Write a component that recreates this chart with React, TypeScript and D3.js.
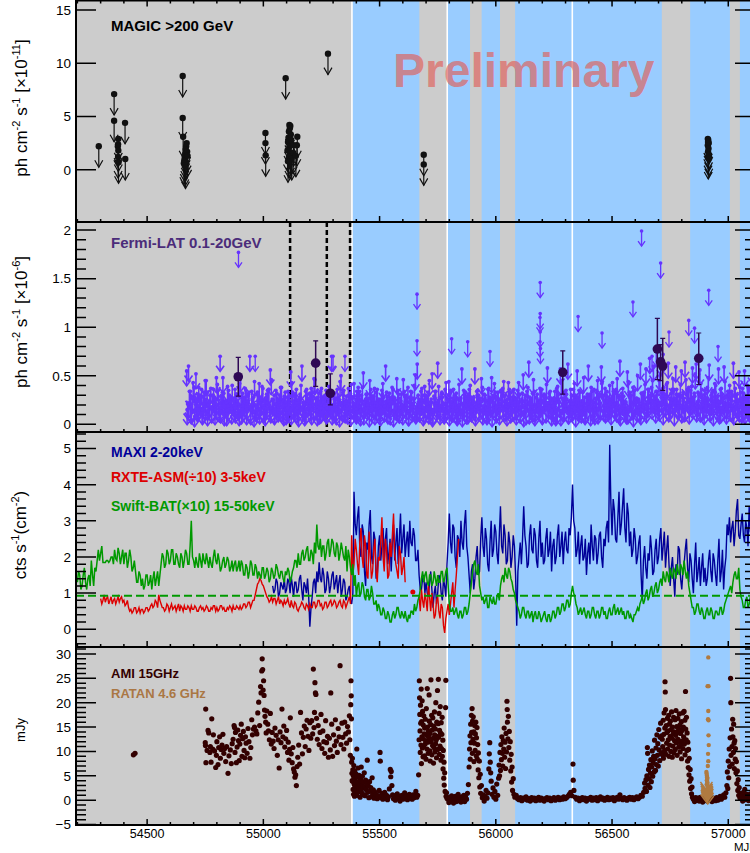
import * as d3 from 'd3';
import { useEffect, useRef } from 'react';

// ---------- data (MJD, flux) ----------

// MAGIC >200 GeV upper limits [x1e-11 ph cm-2 s-1]
const magicUL: [number, number][] = [
  [54292, 2.2],
  [54358, 7.1], [54358, 4.6], [54376, 2.9], [54375, 2.4], [54374, 2.2], [54376, 1.8], [54375, 1.2], [54377, 0.7], [54405, 4.4], [54406, 1.0],
  [54653, 8.8], [54653, 4.85], [54655, 3.1], [54670, 2.5], [54668, 2.2], [54666, 1.9], [54664, 1.5], [54662, 1.2], [54660, 0.9], [54658, 0.6], [54662, 0.4], [54665, 0.2], [54672, 1.7], [54674, 1.3],
  [55009, 3.45], [55009, 2.5], [55010, 1.35],
  [55096, 8.6],
  [55112, 4.2], [55116, 4.1], [55114, 3.9], [55110, 3.6], [55108, 3.0], [55118, 3.3], [55106, 2.6], [55120, 2.8], [55112, 2.2], [55104, 1.8], [55117, 1.5], [55110, 1.2], [55122, 1.0], [55106, 0.8], [55130, 2.3], [55128, 1.6], [55146, 3.1], [55144, 2.3], [55140, 1.3],
  [55278, 10.9],
  [55690, 1.4], [55690, 0.5],
  [56912, 2.9], [56914, 2.8], [56913, 2.6], [56916, 2.5], [56912, 2.3], [56915, 2.0], [56913, 1.7], [56916, 1.4], [56914, 1.1],
];

// Fermi-LAT upper limits [x1e-6]: three interleaved 8-day grids (from MJD 54670, 54672 and 54674)
const fermiStep = 8;
const fermiStartA = 54670;
const fermiULA = [
  .55, .60, .34, .28, .38, .52, .31, .25, .36, .29, .45, .33, .22, .37, .30, .27, .48, .35, .70, .26, .32, .24, .39, .30, .28,
  .27, .36, .31, .21, .49, .32, .26, .35, .29, .70, .34, .28, .19, .33, .42, .25, .37, .23, .31, .36, .56, .26, .30, .35, .24,
  .30, .38, .24, .33, .28, .20, .54, .33, .29, .36, .25, .31, .60, .22, .34, .31, .27, .37, .29, .46, .25, .32, .34, .28, .29,
  .35, .31, .23, .70, .30, .27, .36, .26, .50, .33, .21, .29, .37, .32, .28, .42, .25, .19, .34, .30, .53, .24, .31, .27, .36,
  .29, .37, .33, .25, .22, .35, .28, .60, .29, .32, .26, .36, .25, .47, .31, .27, .20, .34, .30, .38, .28, .33, .26, .51, .62,
  .26, .34, .30, .39, .28, .33, .23, .52, .29, .34, .63, .28, .31, .21, .36, .27, .44, .35, .27, .30, .32, .26, .25, .57, .35,
  .33, .29, .36, .28, .22, .57, .34, .30, .27, .38, .31, .25, .36, .24, .48, .30, .33, .28, .26, .35, .37, .29, .21, .43, .33,
  .28, .36, .26, .35, .31, .23, .51, .30, .34, .64, .26, .32, .34, .28, .22, .37, .36, .29, .29, .58, .32, .27, .25, .34, .37,
  .31, .57, .27, .33, .35, .62, .24, .30, .36, .30, .55, .35, .21, .33, .28, .28, .60, .31, .34, .36, .26, .45, .30, .59, .29,
  .37, .34, .28, .25, .43, .32, .36, .28, .65, .32, .29, .22, .54, .33, .30, .38, .35, .27, .26, .62, .31, .33, .57, .36, .68,
  .38, .60, .29, .34, .45, .66, .34, .31, .41, .63, .27, .36, .36, .59, .30, .31, .55, .33, .64, .30, .38, .35, .58, .32, .62,
  .33, .56, .36, .27, .32, .38, .61, .30, .35, .42, .25, .57, .36, .31, .59, .28, .34, .40, .34, .63, .37, .31, .54, .33, .37,
  .55, .29, .38, .36, .58, .31, .32,
];
const fermiStartB = 54674;
const fermiULB = [
  .21, .34, .16, .43, .28, .19, .38, .24, .15, .33, .45, .20, .30, .17, .36, .25, .41, .18, .29, .48, .22, .14, .35, .27, .40,
  .19, .31, .24, .42, .16, .28, .37, .21, .33, .15, .26, .44, .18, .30, .23, .39, .17, .27, .35, .20, .46, .25, .16, .32, .22,
  .38, .18, .29, .15, .34, .25, .43, .20, .31, .17, .27, .40, .22, .14, .36, .24, .19, .33, .47, .21, .28, .16, .37, .23, .30,
  .17, .39, .26, .20, .32, .15, .28, .44, .19, .35, .24, .16, .30, .41, .22, .18, .34, .27, .14, .38, .21, .31, .25, .45, .18,
  .29, .22, .36, .16, .26, .42, .19, .33, .24, .15, .38, .28, .20, .35, .17, .31, .46, .23, .27, .14, .34, .21, .40, .18, .30,
  .24, .37, .17, .30, .21, .45, .26, .15, .34, .22, .39, .19, .28, .16, .43, .25, .32, .18, .36, .23, .14, .41, .27, .20, .33,
  .16, .31, .40, .22, .28, .18, .35, .25, .47, .19, .30, .15, .37, .23, .27, .42, .17, .33, .21, .29, .44, .19, .26, .36, .24,
  .35, .20, .27, .43, .17, .32, .24, .15, .38, .28, .21, .46, .18, .31, .25, .36, .16, .29, .41, .22, .34, .19, .27, .14, .39,
  .23, .45, .18, .30, .26, .16, .36, .21, .42, .28, .19, .33, .24, .48, .17, .31, .27, .38, .20, .15, .35, .29, .22, .44, .25,
  .30, .19, .40, .26, .34, .21, .47, .17, .29, .37, .23, .16, .44, .28, .20, .35, .25, .50, .18, .32, .27, .41, .22, .36, .30,
  .45, .26, .34, .21, .50, .29, .38, .24, .43, .19, .32, .47, .27, .36, .22, .41, .30, .18, .46, .33, .25, .39, .28, .52, .23,
  .31, .42, .20, .35, .27, .48, .18, .33, .24, .40, .29, .16, .37, .26, .44, .21, .34, .28, .19, .43, .30, .24, .38, .17, .32,
  .26, .40, .21, .34, .29, .18,
];
const fermiStartC = 54672;
const fermiULC = [
  .15, .22, .18, .27, .13, .24, .19, .30, .16, .21, .26, .14, .23, .18, .29, .15, .20, .25, .17, .33, .14, .22, .19, .28, .16,
  .24, .17, .21, .14, .28, .19, .23, .15, .31, .18, .26, .13, .20, .24, .16, .27, .19, .14, .22, .36, .17, .25, .15, .21, .18,
  .20, .26, .14, .23, .17, .29, .15, .22, .19, .25, .13, .28, .18, .21, .16, .24, .32, .15, .20, .27, .14, .23, .17, .26, .19,
  .16, .23, .28, .15, .20, .18, .25, .13, .22, .30, .17, .19, .24, .14, .27, .21, .16, .38, .18, .23, .15, .26, .20, .13, .29,
  .22, .15, .19, .26, .14, .31, .18, .23, .16, .21, .28, .13, .25, .19, .17, .24, .15, .29, .20, .14, .23, .18, .27, .16, .21,
  .18, .25, .14, .22, .29, .16, .20, .13, .27, .19, .24, .15, .33, .17, .21, .26, .14, .23, .18, .28, .16, .20, .25, .13, .22,
  .27, .16, .21, .18, .24, .14, .30, .19, .23, .15, .26, .17, .20, .28, .13, .22, .18, .25, .15, .35, .19, .24, .14, .21, .17,
  .19, .28, .15, .23, .17, .26, .13, .21, .29, .16, .24, .18, .14, .27, .20, .23, .15, .31, .17, .22, .26, .14, .19, .25, .16,
  .23, .14, .26, .19, .31, .16, .22, .18, .25, .13, .28, .20, .17, .24, .15, .21, .29, .14, .23, .18, .27, .16, .20, .42, .19,
  .17, .24, .20, .15, .27, .22, .18, .30, .14, .25, .19, .23, .16, .28, .21, .13, .26, .18, .24, .15, .32, .20, .17, .23, .27,
  .21, .29, .17, .25, .19, .34, .15, .23, .28, .18, .22, .26, .14, .31, .20, .24, .17, .27, .19, .36, .16, .25, .21, .29, .18,
  .24, .18, .30, .15, .22, .27, .19, .25, .14, .33, .20, .23, .17, .28, .21, .16, .26, .19, .31, .15, .24, .22, .18, .27, .20,
  .16, .25, .19, .28, .14, .22,
];

// isolated high Fermi upper limits
const fermiHighUL: [number, number][] = [
  [54893, 1.77], [54965, 0.70], [55300, 0.70], [55351, 0.70], [55661, 1.34], [55661, 0.86], [55810, 0.88], [55879, 0.85],
  [55975, 0.75], [56191, 1.46], [56191, 1.14], [56190, 1.10], [56191, 0.95], [56190, 0.85], [56192, 0.78], [56354, 1.11],
  [56457, 0.94], [56590, 1.26], [56627, 1.99], [56672, 0.70], [56690, 0.75], [56709, 1.66], [56720, 0.72], [56745, 0.95],
  [56830, 1.07], [56855, 0.99], [56916, 1.38], [56956, 0.80],
];

// Fermi detections: mjd, flux, low, high
const fermiDet: [number, number, number, number][] = [
  [54892, 0.49, 0.29, 0.69], [55225, 0.63, 0.39, 0.86], [55288, 0.32, 0.20, 0.52],
  [56288, 0.535, 0.31, 0.757], [56695, 0.775, 0.46, 1.09], [56709, 0.644, 0.45, 0.82],
  [56718, 0.60, 0.35, 0.885], [56873, 0.68, 0.41, 0.94],
];

const flareMarks = [55115, 55273, 55373];

// Swift-BAT (x10): two interleaved 10-day grids (from MJD 54200 and 54205)
const batStep = 10;
const batStartA = 54200;
const batFluxA = [
  1.3, 1.5, 1.2, 1.7, 1.1, 1.5, 1.9, 1.2, 1.6, 2.2,
  2.1, 1.85, 1.85, 1.9, 1.9, 2.0, 2.2, 1.9, 2.1, 2.0,
  1.8, 2.1, 1.9, 2.0, 1.7, 1.6, 1.3, 1.5, 1.4, 1.2,
  1.5, 1.3, 1.1, 1.6, 1.4, 1.2, 1.8, 2.0, 1.8, 2.1,
  1.9, 2.2, 1.8, 2.0, 1.7, 2.0, 1.9, 2.1, 1.8, 3.0,
  1.9, 2.0, 1.7, 1.9, 2.1, 1.8, 1.9, 2.0, 1.7, 2.2,
  1.8, 1.9, 1.7, 2.0, 1.8, 1.9, 1.7, 1.6, 1.9, 1.7,
  1.6, 1.8, 1.5, 1.7, 1.6, 1.8, 1.5, 1.7, 1.6, 1.4,
  1.7, 1.5, 1.6, 1.4, 1.6, 1.5, 1.7, 1.4, 1.6, 1.3,
  1.5, 1.6, 1.4, 1.7, 1.9, 2.1, 1.8, 2.2, 2.0, 2.3,
  1.9, 2.1, 2.4, 2.9, 2.2, 2.0, 2.3, 2.1, 2.5, 2.2,
  2.4, 2.0, 2.3, 2.1, 2.2, 1.9, 1.6, 2.0, 1.5, 1.2,
  0.9, 1.3, 1.0, 1.2, 0.8, 1.1, 0.9, 1.0, 0.7, 0.5,
  0.6, 0.4, 0.5, 0.3, 0.4, 0.2, 0.5, 0.4, 0.6, 0.3,
  0.4, 0.5, 0.2, 0.3, 0.5, 0.7, 0.6, 0.9, 1.4, 1.3,
  1.6, 1.2, 1.5, 1.3, 1.4, 1.5, 1.3, 1.6, 1.4, 1.7,
  0.7, 0.5, 0.4, 0.6, 0.3, 0.5, 0.4, 0.6, 0.5, 1.0,
  1.6, 1.9, 1.5, 1.2, 0.8, 0.7, 0.9, 0.6, 0.8, 0.9,
  0.7, 1.0, 1.2, 1.5, 1.7, 1.4, 1.6, 1.3, 1.0, 0.7,
  0.5, 0.4, 0.6, 0.3, 0.5, 0.4, 0.2, 0.5, 0.3, 0.4,
  0.3, 0.5, 0.2, 0.4, 0.3, 0.5, 0.4, 0.6, 0.5, 0.7,
  0.6, 0.8, 0.7, 1.2, 0.9, 0.6, 0.5, 0.4, 0.6, 0.3,
  0.5, 0.4, 0.6, 0.3, 0.5, 0.4, 0.6, 0.5, 0.3, 0.6,
  0.4, 0.7, 0.5, 0.4, 0.6, 0.5, 0.3, 0.5, 0.4, 0.2,
  0.4, 0.6, 0.7, 0.9, 0.8, 1.1, 0.9, 1.2, 1.0, 1.3,
  1.1, 1.4, 1.6, 1.3, 1.5, 1.7, 1.4, 1.6, 1.8, 1.5,
  1.7, 1.9, 1.4, 1.2, 0.8, 0.6, 0.5, 0.7, 0.4, 0.5,
  0.3, 0.6, 0.4, 0.5, 0.3, 0.5, 0.4, 0.6, 0.5, 0.8,
  1.0, 1.2, 1.3, 1.6, 1.4, 1.1, 0.8, 0.6, 0.9, 0.7,
  0.8, 0.6,
];
const batStartB = 54205;
const batFluxB = [
  1.6, 1.1, 1.5, 1.3, 1.4, 1.2, 1.5, 1.7, 1.9, 1.9,
  2.3, 1.85, 1.9, 1.85, 2.0, 1.8, 1.95, 2.25, 1.8, 2.2,
  2.1, 1.7, 2.2, 1.6, 1.9, 1.3, 1.6, 1.2, 1.1, 1.5,
  1.2, 1.5, 1.4, 1.2, 1.6, 1.5, 2.1, 1.7, 2.2, 1.8,
  2.2, 1.8, 2.1, 1.8, 2.1, 1.7, 2.2, 1.8, 2.3, 2.0,
  1.7, 1.8, 2.1, 1.7, 1.9, 2.1, 1.7, 1.8, 2.0, 1.9,
  2.1, 1.6, 1.9, 1.7, 2.0, 1.6, 1.9, 1.8, 1.6, 1.9,
  1.9, 1.5, 1.8, 1.4, 1.9, 1.5, 1.8, 1.4, 1.5, 1.7,
  1.4, 1.7, 1.3, 1.7, 1.4, 1.8, 1.5, 1.6, 1.4, 1.6,
  1.7, 1.3, 1.6, 1.9, 1.7, 1.8, 2.1, 1.9, 2.2, 1.9,
  2.2, 1.8, 2.1, 2.3, 2.5, 2.3, 1.9, 2.4, 2.0, 2.5,
  2.1, 2.4, 1.9, 2.4, 2.0, 2.3, 2.2, 1.7, 1.8, 1.5,
  1.2, 0.9, 1.3, 0.9, 1.1, 0.8, 1.2, 0.7, 0.8, 0.7,
  0.4, 0.6, 0.3, 0.5, 0.2, 0.4, 0.3, 0.6, 0.4, 0.5,
  0.3, 0.3, 0.4, 0.5, 0.4, 0.5, 0.8, 1.1, 1.6, 1.5,
  1.3, 1.5, 1.2, 1.6, 1.2, 1.3, 1.6, 1.3, 1.6, 1.2,
  0.5, 0.6, 0.5, 0.4, 0.5, 0.3, 0.6, 0.4, 0.7, 1.3,
  1.8, 1.6, 1.8, 1.0, 0.9, 0.8, 0.6, 0.9, 0.7, 0.7,
  0.9, 0.8, 1.4, 1.3, 1.5, 1.7, 1.4, 1.1, 0.8, 0.6,
  0.3, 0.6, 0.4, 0.5, 0.3, 0.5, 0.4, 0.3, 0.5, 0.2,
  0.4, 0.3, 0.4, 0.2, 0.5, 0.3, 0.6, 0.4, 0.7, 0.5,
  0.8, 0.6, 1.0, 1.0, 0.7, 0.4, 0.6, 0.5, 0.4, 0.5,
  0.3, 0.6, 0.4, 0.5, 0.3, 0.6, 0.4, 0.3, 0.5, 0.4,
  0.6, 0.4, 0.6, 0.5, 0.4, 0.3, 0.5, 0.3, 0.3, 0.4,
  0.5, 0.5, 0.8, 0.7, 1.0, 0.8, 1.1, 0.9, 1.2, 1.0,
  1.3, 1.2, 1.4, 1.6, 1.3, 1.5, 1.7, 1.4, 1.6, 1.8,
  1.5, 1.6, 1.6, 1.0, 0.6, 0.4, 0.7, 0.5, 0.6, 0.3,
  0.5, 0.4, 0.6, 0.3, 0.5, 0.4, 0.6, 0.4, 0.7, 0.9,
  1.1, 1.0, 1.5, 1.4, 1.7, 0.9, 0.6, 0.8, 0.6, 0.9,
  0.6,
];
const batLevel = 0.93;

// MAXI 2-20 keV: two interleaved 10-day grids (from MJD 55040 and 55045)
const maxiStep = 10;
const maxiStartA = 55040;
const maxiFluxA = [
  1.2, 1.1, 1.3, 1.0, 1.2, 1.4,
  1.1, 1.3, 1.45, 0.9, 1.3, 1.1, 1.5, 0.8, 1.2, 1.4,
  0.07, 0.9, 1.4, 1.6, 1.85, 1.3, 1.5, 1.1, 1.4, 1.2,
  1.6, 1.3, 1.0, 1.5, 1.1, 1.3, 0.9, 1.2, 0.7, 3.8,
  2.6, 3.4, 2.0, 2.7, 1.2, 2.2, 3.3, 1.8, 2.5, 1.5,
  2.6, 2.3, 1.9, 2.8, 2.1, 1.6, 2.9, 2.4, 1.8, 3.2,
  2.5, 2.0, 2.7, 3.0, 2.3, 2.6, 1.9, 1.5, 1.1, 1.5,
  1.3, 0.9, 1.6, 0.6, 1.2, 1.0, 1.4, 0.8, 1.2, 1.8,
  3.2, 2.1, 2.8, 1.7, 2.5, 3.0, 2.2, 3.3, 2.0, 1.0,
  1.8, 1.4, 2.3, 1.6, 3.1, 2.0, 2.5, 1.6, 3.0, 2.2,
  2.7, 1.8, 3.4, 2.1, 2.6, 1.9, 2.4, 2.0, 2.3, 0.1,
  2.0, 1.8, 3.4, 2.3, 1.8, 2.9, 2.1, 2.6, 1.7, 3.0,
  2.4, 1.9, 2.8, 2.2, 1.6, 2.5, 2.0, 2.9, 2.3, 1.8,
  2.7, 2.1, 2.6, 4.0, 2.8, 2.2, 1.8, 2.6, 2.0, 1.5,
  2.4, 2.9, 1.9, 2.5, 2.1, 2.7, 1.7, 2.3, 3.0, 5.1,
  2.6, 3.3, 2.4, 3.8, 2.9, 3.9, 2.4, 3.2, 2.7, 2.2,
  2.5, 2.0, 2.6, 0.8, 2.3, 1.4, 1.9, 2.2, 1.6, 2.5,
  2.0, 2.8, 2.3, 1.7, 2.6, 1.2, 2.0, 0.9, 1.5, 2.2,
  1.1, 1.8, 2.5, 1.3, 1.9, 1.0, 2.4, 1.6, 1.2, 2.1,
  1.7, 1.4, 2.2, 1.3, 1.9, 1.2, 2.5, 1.6, 1.1, 2.0,
  2.6, 2.4, 3.0, 2.7, 3.6, 2.5, 3.2, 2.4, 2.8, 3.4,
  2.6, 2.9,
];
const maxiStartB = 55045;
const maxiFluxB = [
  1.0, 1.4, 0.9, 1.3, 1.1, 1.0,
  1.4, 1.0, 1.2, 1.3, 1.0, 1.4, 1.1, 1.3, 1.0, 0.9,
  0.6, 1.3, 1.0, 1.3, 1.4, 1.7, 1.0, 1.6, 1.0, 1.5,
  1.1, 1.5, 1.3, 0.9, 1.4, 0.8, 1.1, 0.8, 1.0, 2.9,
  3.1, 2.2, 2.9, 1.6, 2.4, 2.9, 2.0, 2.7, 1.4, 2.3,
  1.9, 2.8, 2.5, 1.8, 2.5, 2.4, 1.9, 2.8, 2.5, 2.1,
  2.9, 2.4, 2.0, 2.4, 2.8, 1.9, 2.2, 1.1, 1.4, 1.0,
  1.0, 1.3, 1.1, 1.0, 0.7, 1.5, 1.0, 1.4, 0.9, 2.4,
  2.4, 2.9, 2.0, 2.6, 2.0, 2.4, 2.9, 2.3, 1.5, 1.6,
  1.1, 2.0, 1.5, 2.5, 2.3, 2.8, 1.8, 2.4, 2.0, 2.9,
  2.1, 2.6, 2.3, 2.9, 1.8, 2.7, 1.7, 2.6, 1.5, 1.6,
  2.4, 2.5, 2.6, 1.7, 2.6, 2.2, 2.8, 1.9, 2.5, 2.0,
  1.8, 2.5, 2.0, 2.7, 2.3, 1.8, 2.6, 2.0, 2.7, 2.4,
  2.2, 2.8, 3.1, 3.0, 2.0, 2.7, 2.3, 1.9, 2.5, 2.1,
  1.8, 2.3, 2.6, 1.8, 2.6, 2.0, 2.5, 2.8, 2.4, 3.5,
  3.6, 2.5, 3.1, 2.6, 3.4, 2.8, 3.5, 2.3, 2.0, 2.8,
  1.8, 2.4, 1.5, 1.9, 1.7, 2.1, 2.6, 1.5, 2.2, 1.8,
  2.5, 1.9, 2.7, 2.2, 1.8, 1.7, 1.4, 1.8, 2.3, 1.4,
  1.6, 2.2, 1.7, 2.1, 1.4, 1.8, 1.3, 2.0, 1.7, 1.3,
  1.2, 1.9, 1.6, 2.1, 1.5, 1.9, 1.3, 2.2, 1.7, 2.9,
  3.1, 2.8, 2.3, 3.3, 2.6, 2.9, 2.6, 3.0, 2.3, 2.7,
  3.1,
];

// RXTE-ASM (/10) 3-5 keV: two interleaved 10-day grids (NaN = no data)
const rxteStep = 10;
const rxteStartA = 54300;
const rxteFluxA = [
  0.85, 0.8, 0.75, 0.9, 0.8, 0.7, 0.85, 0.8, 0.75, 0.9,
  0.8, 0.7, 0.6, 0.55, 0.5, 0.6, 0.5, 0.45, 0.55, 0.5,
  0.6, 0.55, 0.7, 0.65, 0.75, 0.95, 0.7, 0.6, 0.55, 0.65,
  0.6, 0.55, 0.65, 0.6, 0.5, 0.6, 0.65, 0.55, 0.6, 0.65,
  0.55, 0.6, 0.5, 0.65, 0.6, 0.55, 0.6, 0.5, 0.55, 0.65,
  0.6, 0.55, 0.65, 0.6, 0.5, 0.55, 0.6, 0.65, 0.55, 0.6,
  0.65, 0.6, 0.7, 0.65, 0.75, 0.7, 0.8, 1.1, 1.3, 1.35,
  1.2, 1.0, 0.85, 0.8, 0.75, 0.85, 0.8, 0.7, 0.75, 0.8,
  0.75, 0.7, 0.8, 0.6, 0.7, 0.5, 0.65, 0.7, 0.55, 0.65,
  0.7, 0.6, 0.75, 0.65, 0.8, 0.7, 0.6, 0.75, 0.65, 0.8,
  0.7, 0.75, 0.65, 0.8, 0.6, 0.75, 0.7, 0.9, 2.6, 1.8,
  2.2, 1.5, 2.8, 1.7, 2.3, 1.4, 2.0, 1.6, 2.5, 1.3,
  1.9, 3.1, 1.6, 2.2, 1.5, 2.0, 3.2, 1.8, 1.4, 2.1,
  1.7, 1.3, NaN, NaN, NaN, NaN, NaN, 0.9, 1.1, 0.6,
  0.8, 1.2, 0.5, 0.7, 0.4, 0.9, 0.3, 0.6, -0.1, 0.5,
  0.4, 1.0, 0.6, 1.5, 2.5,
];
const rxteStartB = 54305;
const rxteFluxB = [
  0.7, 0.95, 0.85, 0.7, 0.9, 0.8, 0.7, 0.9, 0.85, 0.75,
  0.65, 0.8, 0.5, 0.45, 0.6, 0.45, 0.6, 0.55, 0.45, 0.6,
  0.5, 0.65, 0.6, 0.8, 0.6, 0.8, 0.6, 0.5, 0.7, 0.5,
  0.7, 0.6, 0.5, 0.7, 0.65, 0.5, 0.55, 0.65, 0.5, 0.55,
  0.65, 0.5, 0.6, 0.55, 0.5, 0.65, 0.5, 0.6, 0.65, 0.5,
  0.5, 0.65, 0.55, 0.5, 0.6, 0.65, 0.5, 0.55, 0.65, 0.55,
  0.55, 0.7, 0.6, 0.75, 0.6, 0.8, 0.95, 1.25, 1.4, 1.25,
  1.1, 0.9, 0.75, 0.9, 0.85, 0.7, 0.9, 0.8, 0.65, 0.7,
  0.85, 0.6, 0.65, 0.75, 0.55, 0.6, 0.75, 0.6, 0.7, 0.55,
  0.6, 0.75, 0.6, 0.8, 0.65, 0.55, 0.75, 0.6, 0.75, 0.65,
  0.8, 0.6, 0.75, 0.65, 0.8, 0.6, 0.8, 0.7, 1.5, 2.5,
  1.8, 2.4, 2.0, 2.6, 1.5, 2.7, 1.4, 2.2, 1.6, 2.0,
  2.4, 2.0, 2.5, 1.4, 2.4, 2.6, 2.1, 1.6, 2.3, 1.5,
  2.0, NaN, NaN, NaN, NaN, NaN, NaN, 0.5, 0.8, 1.0,
  0.5, 0.9, 1.0, 0.3, 0.8, 0.5, 0.7, 0.1, 0.3, 0.7,
  0.7, 1.3, 1.1, 2.0,
];
const rxteDot: [number, number] = [55643, 1.03];

// AMI 15 GHz [mJy]
const amiFlux: [number, number][] = [
  [54441, 9.3], [54448, 9.6],
  [54752, 18.7], [54750, 11.8], [54751, 11.2], [54753, 7.7], [54758, 10.2], [54762, 14.3], [54765, 13.8], [54770, 9.8],
  [54772, 11.0], [54775, 7.8], [54778, 16.7], [54782, 10.5], [54785, 13.4], [54790, 10.1], [54795, 6.7], [54798, 9.2],
  [54800, 12.0], [54805, 7.3], [54808, 10.8], [54812, 13.0], [54815, 8.6], [54818, 10.4], [54822, 11.3], [54826, 13.5],
  [54830, 9.6], [54834, 10.6], [54838, 7.9], [54842, 11.0], [54848, 5.5], [54852, 9.1], [54858, 10.3], [54862, 7.5],
  [54866, 11.6], [54870, 12.5], [54874, 15.3], [54876, 14.9], [54878, 9.8], [54880, 13.9], [54884, 7.7], [54887, 10.9],
  [54890, 14.4], [54893, 12.2], [54896, 8.1], [54899, 11.5], [54902, 13.3], [54905, 15.6], [54908, 9.0], [54911, 12.6],
  [54914, 14.1], [54917, 10.2], [54920, 8.7], [54923, 13.0], [54926, 11.7], [54930, 9.6], [54934, 14.7], [54938, 12.0],
  [54942, 8.6], [54946, 10.8], [54950, 16.5], [54953, 13.4], [54957, 14.6], [54962, 15.0], [54968, 14.2], [54972, 13.6],
  [54976, 17.9], [54980, 20.1], [54984, 15.3], [54988, 23.3], [54990, 22.0], [54993, 26.5], [54995, 29.0], [54997, 26.8],
  [54999, 22.6], [55001, 24.5], [55003, 21.5], [55005, 18.5], [55007, 17.2], [55010, 16.0], [55012, 13.8], [55015, 18.3],
  [55019, 15.6], [55022, 14.2], [55026, 12.4], [55030, 17.8], [55034, 11.5], [55038, 13.9], [55042, 12.1], [55046, 10.6],
  [55050, 14.8], [55055, 13.3], [55060, 9.2], [55064, 12.4], [55068, 6.6], [55072, 14.0], [55076, 11.8], [55080, 18.7],
  [55084, 13.0], [55088, 15.2], [55092, 10.9], [55096, 12.6], [55100, 14.3], [55104, 9.8], [55107, 11.9], [55110, 8.2],
  [55113, 10.4], [55116, 16.9], [55120, 9.5], [55124, 7.7], [55127, 10.8], [55130, 6.4], [55133, 5.8], [55136, 4.7],
  [55139, 5.2], [55142, 3.0], [55145, 6.9], [55148, 8.8], [55152, 11.3], [55156, 7.4], [55160, 18.0], [55164, 13.8],
  [55168, 9.5], [55172, 12.9], [55176, 15.2], [55180, 11.0], [55184, 14.6], [55188, 16.4], [55192, 13.1], [55196, 10.2],
  [55200, 15.9], [55204, 12.7], [55208, 16.3], [55212, 13.6], [55215, 26.9], [55218, 14.9], [55220, 18.0], [55222, 24.1],
  [55224, 22.0], [55226, 21.7], [55229, 16.8], [55232, 12.5], [55236, 15.3], [55240, 11.4], [55244, 13.9], [55248, 17.6],
  [55252, 10.6], [55256, 14.2], [55260, 12.0], [55264, 9.6], [55268, 16.3], [55272, 11.8], [55276, 13.1], [55280, 8.8],
  [55284, 12.7], [55288, 10.3], [55290, 22.0], [55294, 15.6], [55298, 9.0], [55302, 13.4], [55306, 11.2], [55310, 16.5],
  [55314, 12.1], [55318, 9.8], [55322, 14.7], [55326, 13.0], [55330, 27.6], [55334, 11.4], [55338, 15.8], [55342, 12.9],
  [55346, 10.5], [55350, 16.0], [55354, 13.6], [55358, 11.7], [55362, 15.1], [55366, 14.0], [55370, 17.3], [55372, 12.4],
  [55374, 9.2], [55376, 19.6], [55377, 24.5], [55378, 21.4], [55379, 16.7], [55380, 7.8], [55381, 5.5], [55382, 4.0],
  [55383, 8.6], [55384, 3.9], [55385, 6.2], [55386, 2.2], [55387, 5.0], [55388, 1.2], [55389, 7.1], [55390, 3.3],
  [55391, 4.5], [55392, 0.8], [55393, 6.0], [55394, 2.7], [55395, 4.0], [55396, 1.5], [55398, 5.4], [55399, 2.1],
  [55400, 3.6], [55402, 10.5], [55403, 1.0], [55404, 4.8], [55406, 2.9], [55407, 6.6], [55409, 3.8], [55410, 1.8],
  [55412, 5.1], [55413, 2.4], [55415, 3.2], [55416, 0.6], [55418, 4.3], [55420, 2.0], [55421, 6.8], [55423, 3.0],
  [55425, 1.4], [55426, 4.9], [55428, 2.5], [55430, 3.7], [55432, 1.1], [55434, 5.6], [55436, 2.8], [55438, 0.9],
  [55440, 4.1], [55442, 2.2], [55445, 3.4], [55447, 8.2], [55449, 1.6], [55452, 2.9], [55454, 0.5], [55457, 3.8],
  [55460, 1.9], [55462, 2.6], [55465, 0.7], [55468, 4.6], [55470, 1.3], [55473, 2.1], [55476, 0.4], [55479, 1.7],
  [55482, 0.6], [55486, 1.2], [55490, 0.3], [55494, 0.9], [55498, 2.0], [55502, 9.8], [55503, 8.0], [55506, 0.5],
  [55510, 1.4], [55514, 0.2], [55518, 0.8], [55522, 1.6], [55526, 0.4], [55530, 1.0], [55534, 0.1], [55538, 0.7],
  [55542, 2.3], [55546, 6.3], [55548, 4.8], [55550, 5.9], [55553, 3.0], [55556, 1.1], [55560, 0.3], [55564, 0.9],
  [55568, 0.0], [55572, 0.6], [55576, 1.3], [55580, 0.4], [55584, 0.8], [55588, -0.2], [55592, 0.5], [55596, 1.0],
  [55600, 0.2], [55604, 0.7], [55608, 1.5], [55612, 0.3], [55616, 0.9], [55620, 0.1], [55624, 0.6], [55628, 1.2],
  [55632, 0.4], [55636, 0.8], [55640, 0.2], [55644, 1.1], [55648, 0.5], [55652, 0.9], [55656, 1.8], [55660, 0.6],
  [55664, 1.0],
  [55668, 5.2], [55670, 12.4], [55671, 24.5], [55672, 21.0], [55673, 17.6], [55674, 14.2], [55675, 9.8], [55676, 19.5],
  [55677, 15.8], [55678, 11.3], [55679, 22.8], [55680, 7.5], [55681, 16.1], [55682, 13.0], [55683, 20.4], [55684, 10.7],
  [55685, 18.2], [55686, 12.6], [55687, 8.9], [55688, 15.4], [55689, 11.0], [55690, 17.3], [55692, 13.6], [55693, 9.1],
  [55694, 14.8], [55696, 11.5], [55697, 16.6], [55698, 12.2], [55700, 8.4], [55701, 18.8], [55702, 13.3], [55704, 10.5],
  [55705, 22.9], [55706, 15.0], [55708, 11.9], [55709, 9.6], [55710, 14.1], [55712, 12.8], [55713, 21.6], [55714, 16.2],
  [55716, 10.1], [55717, 13.7], [55718, 8.0], [55720, 15.5], [55721, 24.7], [55722, 12.0], [55724, 17.4], [55725, 9.3],
  [55726, 14.4], [55728, 11.2], [55729, 16.9], [55730, 12.7], [55732, 7.6], [55733, 15.2], [55734, 10.8], [55736, 18.1],
  [55737, 13.4], [55738, 9.9], [55740, 14.6], [55741, 11.6], [55742, 20.0], [55744, 12.4], [55745, 8.7], [55746, 16.0],
  [55748, 13.1], [55749, 22.5], [55750, 10.4], [55752, 15.7], [55753, 24.8], [55754, 12.9], [55756, 17.8], [55757, 9.4],
  [55758, 14.3], [55760, 11.1], [55761, 19.2], [55762, 13.8], [55764, 8.2], [55765, 15.9], [55766, 10.6], [55768, 13.5],
  [55769, 17.0], [55770, 9.0], [55772, 12.3], [55773, 6.4], [55774, 10.2], [55776, 4.5], [55777, 7.8], [55778, 3.1],
  [55780, 5.6], [55782, 1.8], [55784, 19.0], [55785, 24.6], [55786, 0.8], [55788, 1.5], [55790, 0.4],
  [55794, 0.2], [55798, -0.5], [55802, 0.6], [55806, -0.2], [55810, 0.9], [55814, 0.0], [55818, -0.6], [55822, 0.4],
  [55826, 0.8], [55830, -0.3], [55834, 0.3], [55838, 1.2], [55842, -0.1], [55846, 0.5], [55850, -0.4], [55854, 0.7],
  [55858, 0.1], [55862, 1.0], [55866, -0.3], [55870, 0.6], [55874, 0.2], [55878, 1.4], [55882, 3.2],
  [55885, 6.8], [55887, 10.5], [55889, 13.2], [55890, 8.4], [55892, 15.6], [55893, 11.8], [55895, 17.4], [55896, 13.9],
  [55898, 18.8], [55899, 9.6], [55900, 16.2], [55902, 12.5], [55903, 17.1], [55905, 14.0], [55906, 7.9], [55908, 11.7],
  [55909, 15.3], [55911, 10.2], [55912, 13.6], [55914, 16.0], [55916, 9.1], [55917, 12.8], [55919, 14.9], [55920, 8.5],
  [55922, 11.4], [55924, 6.2], [55925, 9.7], [55927, 4.6], [55929, 8.0], [55931, 2.7], [55933, 5.3], [55935, 1.4],
  [55938, 3.0],
  [55942, 0.5], [55946, 1.1], [55950, -0.2], [55954, 0.8], [55958, 2.0], [55962, 0.4], [55966, 1.5], [55970, 6.4],
  [55972, 9.5], [55974, 11.8], [55976, 7.8], [55978, 5.6], [55980, 3.9], [55984, 1.2], [55988, 2.5], [55992, 0.6],
  [55996, 1.8], [56000, 0.2], [56004, 3.3], [56008, 1.0],
  [56012, 4.5], [56014, 7.2], [56016, 5.0], [56018, 9.8], [56020, 6.1], [56022, 11.4], [56024, 8.3], [56026, 13.0],
  [56028, 9.6], [56030, 7.0], [56032, 12.2], [56034, 10.5], [56036, 14.8], [56038, 8.8], [56040, 11.9], [56042, 6.5],
  [56044, 13.7], [56046, 9.9], [56048, 20.3], [56049, 18.6], [56050, 16.0], [56052, 12.6], [56054, 17.2], [56056, 10.8],
  [56058, 14.1], [56060, 8.2], [56062, 12.0], [56064, 6.0], [56066, 9.4], [56068, 3.7], [56070, 6.8], [56072, 2.0],
  [56075, 4.4], [56078, 1.2],
  [56082, 0.6], [56088, 1.0], [56094, 0.3], [56100, 0.1], [56106, 0.5], [56112, -0.1], [56118, 0.4], [56124, 0.2],
  [56130, 0.7], [56136, 0.0], [56142, 0.3], [56148, -0.2], [56154, 0.5], [56160, 0.1], [56166, 0.4], [56172, -0.1],
  [56178, 0.3], [56184, 0.6], [56190, 0.0], [56196, 0.4], [56202, 0.2], [56208, -0.2], [56214, 0.3], [56220, 0.5],
  [56226, 0.1], [56232, 0.4], [56238, -0.1], [56244, 0.2], [56250, 0.5], [56256, 0.0], [56262, 0.3], [56268, 0.6],
  [56274, 0.1], [56280, 0.4], [56286, 0.2], [56292, 0.7], [56298, 0.3], [56304, 0.5], [56310, 0.8], [56316, 1.2],
  [56322, 1.6], [56328, 0.9], [56332, 7.4], [56333, 4.1], [56336, 2.0],
  [56342, 0.6], [56348, 0.2], [56354, 0.4], [56360, -0.1], [56366, 0.3], [56372, 0.5], [56378, 0.1], [56384, 0.4],
  [56390, -0.2], [56396, 0.3], [56402, 0.2], [56408, 0.6], [56414, 0.0], [56420, 0.4], [56426, 0.1], [56432, 0.5],
  [56438, -0.1], [56444, 0.3], [56450, 0.7], [56456, 0.2], [56462, 0.4], [56468, 0.0], [56474, 0.3], [56480, 0.6],
  [56486, 0.1], [56492, 0.4], [56498, 0.2], [56504, 0.5], [56510, -0.1], [56516, 0.3], [56522, 0.6], [56528, 0.2],
  [56534, 1.1], [56540, 0.4], [56546, 0.1], [56552, 0.5], [56558, 0.3], [56564, 0.0], [56570, 0.4], [56576, 0.6],
  [56582, 0.2], [56588, 0.5], [56594, 0.1], [56600, 0.4], [56606, 0.7], [56612, 0.3], [56618, 0.6], [56624, 1.0],
  [56630, 0.8],
  [56636, 1.6], [56640, 3.5], [56642, 2.4], [56646, 4.2], [56648, 1.8], [56650, 5.0], [56652, 10.8], [56653, 9.6],
  [56655, 3.1], [56657, 6.3], [56659, 4.4], [56661, 7.2], [56663, 2.6], [56665, 5.5], [56667, 8.3], [56669, 3.8],
  [56671, 6.8], [56673, 10.1], [56675, 4.9], [56677, 7.7], [56679, 9.0], [56681, 5.8], [56683, 12.3], [56685, 8.5],
  [56687, 6.1], [56689, 10.7], [56691, 7.3], [56693, 13.4], [56695, 9.2], [56697, 11.6], [56699, 7.0], [56701, 14.5],
  [56703, 10.3], [56705, 8.1], [56707, 12.9], [56709, 15.8], [56711, 9.7], [56713, 13.2],
  [56716, 12.5], [56717, 9.3], [56718, 11.0], [56720, 16.4], [56721, 8.6], [56723, 13.5], [56724, 17.9], [56726, 10.2],
  [56727, 14.8], [56728, 24.3], [56729, 22.2], [56730, 18.6], [56732, 9.4], [56733, 15.3], [56735, 11.7], [56736, 13.9],
  [56738, 16.8], [56739, 10.5], [56741, 14.2], [56742, 12.4], [56744, 17.4], [56745, 9.0], [56747, 15.6], [56748, 11.3],
  [56750, 13.1], [56751, 16.2], [56753, 10.0], [56754, 14.5], [56756, 18.1], [56757, 12.7], [56759, 8.8], [56760, 15.0],
  [56762, 11.1], [56763, 13.6], [56765, 17.0], [56766, 9.7], [56768, 14.0], [56769, 12.2], [56771, 16.5], [56772, 10.4],
  [56774, 13.3], [56775, 18.4], [56777, 11.8], [56778, 15.1], [56780, 9.2], [56781, 13.9], [56783, 16.8], [56784, 12.5],
  [56786, 14.7], [56787, 10.9], [56789, 17.7], [56790, 12.0], [56792, 15.4], [56793, 9.9], [56795, 13.7], [56796, 11.4],
  [56798, 16.1], [56799, 8.5], [56801, 14.3], [56802, 12.1], [56804, 17.9], [56805, 10.6], [56807, 15.0], [56808, 13.0],
  [56810, 18.2], [56811, 11.5], [56813, 16.4], [56814, 9.3], [56816, 22.3], [56817, 14.6], [56819, 12.4], [56820, 17.0],
  [56822, 10.2], [56823, 13.8], [56825, 8.0], [56826, 11.9], [56828, 6.7], [56829, 10.4], [56831, 5.2], [56832, 8.6],
  [56834, 3.9], [56836, 6.3], [56838, 2.4], [56840, 4.4], [56842, 1.3], [56844, 2.7], [56846, 0.6],
  [56850, 0.2], [56855, -0.3], [56860, 0.5], [56865, 0.0], [56870, 0.4], [56875, -0.2], [56880, 0.6], [56885, 0.1],
  [56890, -0.4], [56895, 0.3], [56900, 0.0], [56905, 0.5], [56910, -0.2], [56915, 0.3], [56920, 0.7], [56925, 0.1],
  [56930, -0.3], [56935, 0.4], [56940, 0.2], [56945, -0.1], [56950, 0.5], [56955, 0.0], [56960, 0.3], [56965, 0.8],
  [56970, 0.2], [56975, 0.5], [56980, 1.1], [56985, 0.6], [56990, 1.5],
  [56994, 3.0], [56996, 5.8], [56998, 2.4], [57000, 8.0], [57002, 4.6], [57004, 10.5], [57006, 6.9], [57008, 12.8],
  [57010, 25.0], [57011, 20.0], [57012, 9.2], [57014, 14.6], [57016, 11.0], [57017, 7.4], [57019, 16.6], [57020, 13.0],
  [57022, 9.8], [57023, 15.6], [57025, 11.7], [57026, 6.5], [57028, 12.2], [57030, 8.4], [57031, 10.6], [57033, 5.6],
  [57035, 7.9], [57037, 3.4], [57039, 6.0], [57041, 2.0], [57043, 4.2], [57045, 1.0], [57047, 2.6], [57050, 0.5],
  [57053, 1.4], [57056, 0.3], [57059, 0.9], [57062, -0.2], [57065, 1.6], [57068, 0.5], [57071, 2.2], [57074, 0.8],
  [57077, 0.1], [57080, 1.2], [57083, 0.4], [57086, 0.9], [57089, -0.1], [57092, 0.6], [57095, 1.3], [57098, 0.2],
];

// RATAN 4.6 GHz [mJy]
const ratanFlux: [number, number][] = [
  [56914, 29.3], [56911, 23.4], [56915, 23.4], [56914, 18.3], [56913, 16.6], [56915, 16.4],
  [56915, 13.3], [56916, 11.3], [56913, 9.5], [56914, 8.0], [56912, 7.0],
];
const ratanUL: [number, number][] = [
  [56906, 5.8], [56907, 5.4], [56908, 5.0], [56909, 4.7], [56910, 4.4], [56908, 4.1],
  [56909, 3.8], [56911, 3.5], [56907, 3.2], [56912, 2.9],
];

// shading of the source states
const blueBands: [number, number][] = [
  [55383, 55671], [55791, 55889], [55939, 56018], [56083, 56714], [56836, 57007], [57050, 57140],
];
const whiteLines = [55381, 55791, 56329];
const xTicks = [54500, 55000, 55500, 56000, 56500, 57000];

// ---------- layout ----------
const W = 750;
const H = 853;
const plotLeft = 76;
const plotRight = 755;
const font = 'Liberation Sans, Arial, Helvetica, sans-serif';

type Panel = {
  id: string;
  top: number;
  bottom: number;
  domain: [number, number];
  major: number[];
  minorStep: number;
  fmt: (v: number) => string;
};

const panels: Panel[] = [
  { id: 'magic', top: 0.5, bottom: 222, domain: [-4.91, 15.89], major: [0, 5, 10, 15], minorStep: 0, fmt: String },
  { id: 'fermi', top: 222, bottom: 432, domain: [-0.079, 2.083], major: [0, 0.5, 1, 1.5, 2], minorStep: 0.1, fmt: String },
  { id: 'xray', top: 432, bottom: 647, domain: [-0.49, 5.456], major: [0, 1, 2, 3, 4, 5], minorStep: 0.2, fmt: String },
  { id: 'radio', top: 647, bottom: 825, domain: [-5.1, 31.43], major: [-5, 0, 5, 10, 15, 20, 25, 30], minorStep: 1, fmt: (v) => (v < 0 ? '\u2212' + -v : String(v)) },
];

type G = d3.Selection<SVGGElement, unknown, null, undefined>;
type Pt = [number, number];

const grid = (start: number, step: number, vals: number[]) => vals.map((v, i) => [start + i * step, v] as Pt);
const merged = (...parts: Pt[][]) => parts.flat().sort((p, q) => p[0] - q[0]);

function upperLimits(
  g: G, data: Pt[], x: (v: number) => number, y: (v: number) => number,
  o: { len: number; hw: number; hh: number; color: string; r: number; sw: number },
) {
  let stems = '';
  let heads = '';
  data.forEach(([t, v]) => {
    const px = x(t);
    const py = y(v);
    stems += `M${px},${py}V${py + o.len}`;
    heads += `M${px - o.hw},${py + o.len - o.hh}L${px},${py + o.len}L${px + o.hw},${py + o.len - o.hh}`;
  });
  g.append('path').attr('d', stems).attr('stroke', o.color).attr('stroke-width', o.sw).attr('fill', 'none');
  g.append('path').attr('d', heads).attr('stroke', o.color).attr('stroke-width', o.sw).attr('fill', 'none');
  g.selectAll(null).data(data).join('circle')
    .attr('cx', (d) => x(d[0])).attr('cy', (d) => y(d[1])).attr('r', o.r).attr('fill', o.color);
}

function axisTitle(svg: d3.Selection<SVGSVGElement, unknown, null, undefined>, x: number, cy: number, size: number, parts: [string, boolean][]) {
  const t = svg.append('text')
    .attr('transform', `translate(${x},${cy}) rotate(-90)`)
    .attr('text-anchor', 'middle')
    .attr('font-family', font)
    .attr('font-size', size)
    .attr('fill', '#000');
  let up = false;
  parts.forEach(([s, sup]) => {
    const ts = t.append('tspan').text(s);
    if (sup && !up) { ts.attr('dy', -size * 0.42).attr('font-size', size * 0.65); up = true; }
    else if (sup) ts.attr('font-size', size * 0.65);
    else if (up) { ts.attr('dy', size * 0.42); up = false; }
  });
}

function label(g: G, text: string, y: number, color: string, size: number) {
  g.append('text').attr('x', 111).attr('y', y).attr('font-family', font).attr('font-weight', 'bold')
    .attr('font-size', size).attr('fill', color).text(text);
}

export default function App() {
  const ref = useRef<SVGSVGElement>(null);

  useEffect(() => {
    const svg = d3.select(ref.current!);
    svg.selectAll('*').remove();
    const x = d3.scaleLinear([54194, 57115], [plotLeft, plotRight]);
    const defs = svg.append('defs');

    panels.forEach((p) => {
      const y = d3.scaleLinear(p.domain, [p.bottom, p.top]);
      const clipId = 'clip-' + p.id;
      defs.append('clipPath').attr('id', clipId).append('rect')
        .attr('x', plotLeft).attr('y', p.top).attr('width', plotRight - plotLeft).attr('height', p.bottom - p.top);

      const bg = svg.append('g').attr('clip-path', `url(#${clipId})`);
      bg.append('rect').attr('x', plotLeft).attr('y', p.top).attr('width', plotRight - plotLeft)
        .attr('height', p.bottom - p.top).attr('fill', '#cccccc');
      bg.selectAll(null).data(blueBands).join('rect')
        .attr('x', (d) => x(d[0])).attr('width', (d) => x(d[1]) - x(d[0]))
        .attr('y', p.top).attr('height', p.bottom - p.top).attr('fill', '#99ccff');
      bg.selectAll(null).data(whiteLines).join('line')
        .attr('x1', (d) => x(d)).attr('x2', (d) => x(d)).attr('y1', p.top).attr('y2', p.bottom)
        .attr('stroke', '#fff').attr('stroke-width', 1.6);

      const g = svg.append('g').attr('clip-path', `url(#${clipId})`);

      if (p.id === 'magic') {
        upperLimits(g, magicUL, x, y, { len: 21, hw: 4, hh: 7, color: '#111', r: 3.2, sw: 1.2 });
      }

      if (p.id === 'fermi') {
        g.selectAll(null).data(flareMarks).join('line')
          .attr('x1', (d) => x(d)).attr('x2', (d) => x(d)).attr('y1', p.top).attr('y2', p.bottom)
          .attr('stroke', '#000').attr('stroke-width', 2.5).attr('stroke-dasharray', '5,3');
        const dense = { len: 15, hw: 4, hh: 5.5, color: '#6633ff', r: 1.9, sw: 1.6 };
        upperLimits(g, merged(
          grid(fermiStartA, fermiStep, fermiULA),
          grid(fermiStartB, fermiStep, fermiULB),
          grid(fermiStartC, fermiStep, fermiULC),
        ), x, y, dense);
        upperLimits(g, fermiHighUL, x, y, { len: 15, hw: 3.5, hh: 5, color: '#6633ff', r: 1.8, sw: 1.3 });
        const det = g.selectAll(null).data(fermiDet).join('g');
        det.append('line').attr('x1', (d) => x(d[0])).attr('x2', (d) => x(d[0]))
          .attr('y1', (d) => y(d[2])).attr('y2', (d) => y(d[3])).attr('stroke', '#2e0854').attr('stroke-width', 1.5);
        det.append('path').attr('d', (d) => `M${x(d[0]) - 2.5},${y(d[2])}h5M${x(d[0]) - 2.5},${y(d[3])}h5`)
          .attr('stroke', '#2e0854').attr('stroke-width', 1.2);
        det.append('circle').attr('cx', (d) => x(d[0])).attr('cy', (d) => y(d[1])).attr('r', 4.8).attr('fill', '#2e0854');
      }

      if (p.id === 'xray') {
        const line = d3.line<Pt>().defined((d) => !isNaN(d[1])).x((d) => x(d[0])).y((d) => y(d[1]));
        g.append('path').attr('d', line(merged(grid(maxiStartA, maxiStep, maxiFluxA), grid(maxiStartB, maxiStep, maxiFluxB))))
          .attr('fill', 'none').attr('stroke', '#000099').attr('stroke-width', 1.4);
        g.append('path').attr('d', line(merged(grid(rxteStartA, rxteStep, rxteFluxA), grid(rxteStartB, rxteStep, rxteFluxB))))
          .attr('fill', 'none').attr('stroke', '#dd0000').attr('stroke-width', 1.4);
        g.append('circle').attr('cx', x(rxteDot[0])).attr('cy', y(rxteDot[1])).attr('r', 2.5).attr('fill', '#dd0000');
        g.append('path').attr('d', line(merged(grid(batStartA, batStep, batFluxA), grid(batStartB, batStep, batFluxB))))
          .attr('fill', 'none').attr('stroke', '#009900').attr('stroke-width', 1.5);
        g.append('line').attr('x1', plotLeft).attr('x2', plotRight).attr('y1', y(batLevel)).attr('y2', y(batLevel))
          .attr('stroke', '#009900').attr('stroke-width', 2).attr('stroke-dasharray', '8,4');
      }

      if (p.id === 'radio') {
        g.selectAll(null).data(amiFlux).join('circle')
          .attr('cx', (d) => x(d[0])).attr('cy', (d) => y(d[1])).attr('r', 2.6).attr('fill', '#330000');
        upperLimits(g, ratanUL, x, y, { len: 18, hw: 6, hh: 8, color: '#b07a40', r: 2.2, sw: 1.5 });
        g.selectAll(null).data(ratanFlux).join('circle')
          .attr('cx', (d) => x(d[0])).attr('cy', (d) => y(d[1])).attr('r', 2.2).attr('fill', '#b07a40');
      }

      // frame and ticks
      const ax = svg.append('g').attr('stroke', '#000');
      ax.append('rect').attr('x', plotLeft).attr('y', p.top).attr('width', plotRight - plotLeft)
        .attr('height', p.bottom - p.top).attr('fill', 'none').attr('stroke-width', 2);
      const minors = p.minorStep
        ? d3.range(Math.ceil(p.domain[0] / p.minorStep), Math.floor(p.domain[1] / p.minorStep) + 1)
          .map((k) => +(k * p.minorStep).toFixed(3))
          .filter((v) => !p.major.includes(v))
        : [];
      let tk = '';
      p.major.forEach((v) => { tk += `M${plotLeft},${y(v)}h20M${plotRight},${y(v)}h-20`; });
      minors.forEach((v) => { tk += `M${plotLeft},${y(v)}h10M${plotRight},${y(v)}h-10`; });
      d3.range(54200, 57101, 100).forEach((t) => {
        const len = t % 500 === 0 ? 6 : 3;
        tk += `M${x(t)},${p.bottom}v${-len}`;
        if (p.id === 'magic') tk += `M${x(t)},${p.top}v${len}`;
      });
      ax.append('path').attr('d', tk).attr('stroke-width', 1.5).attr('fill', 'none');

      svg.append('g').selectAll(null).data(p.major).join('text')
        .attr('x', 71).attr('y', (d) => y(d)).attr('dy', '0.36em').attr('text-anchor', 'end')
        .attr('font-family', font).attr('font-size', 13.5).attr('fill', '#000').text((d) => p.fmt(d));

      const lg = svg.append('g');
      if (p.id === 'magic') {
        label(lg, 'MAGIC >200 GeV', 31, '#000', 15);
        lg.append('text').attr('x', 393).attr('y', 87).attr('font-family', font).attr('font-weight', 'bold')
          .attr('font-size', 48).attr('fill', '#e0605a').attr('fill-opacity', 0.68).text('Preliminary');
      }
      if (p.id === 'fermi') label(lg, 'Fermi-LAT 0.1-20GeV', 247.5, '#4b2c7a', 15);
      if (p.id === 'xray') {
        label(lg, 'MAXI 2-20keV', 457, '#000099', 14);
        label(lg, 'RXTE-ASM(\u00f710) 3-5keV', 482, '#dd0000', 14);
        label(lg, 'Swift-BAT(\u00d710) 15-50keV', 511, '#009900', 14);
      }
      if (p.id === 'radio') {
        label(lg, 'AMI 15GHz', 678, '#330000', 13);
        label(lg, 'RATAN 4.6 GHz', 697.5, '#aa7744', 13);
      }
    });

    // x tick labels
    svg.append('g').selectAll(null).data(xTicks).join('text')
      .attr('x', (d) => x(d)).attr('y', 838).attr('text-anchor', 'middle')
      .attr('font-family', font).attr('font-size', 12.5).attr('fill', '#000').text((d) => String(d));
    svg.append('text').attr('x', 734).attr('y', 851).attr('font-family', font).attr('font-size', 11.5)
      .attr('fill', '#000').text('MJD');

    // y axis titles
    axisTitle(svg, 27, 108, 17, [['ph cm', false], ['-2', true], [' s', false], ['-1', true], [' [\u00d710', false], ['-11', true], [']', false]]);
    axisTitle(svg, 27, 322, 17, [['ph cm', false], ['-2', true], [' s', false], ['-1', true], [' [\u00d710', false], ['-6', true], [']', false]]);
    axisTitle(svg, 26, 535, 17, [['cts s', false], ['-1', true], ['(cm', false], ['-2', true], [')', false]]);
    axisTitle(svg, 25, 730, 13, [['mJy', false]]);
  }, []);

  return (
    <svg ref={ref} width={W} height={H}
      style={{ position: 'absolute', left: 0, top: 0, background: '#fff', display: 'block' }} />
  );
}
